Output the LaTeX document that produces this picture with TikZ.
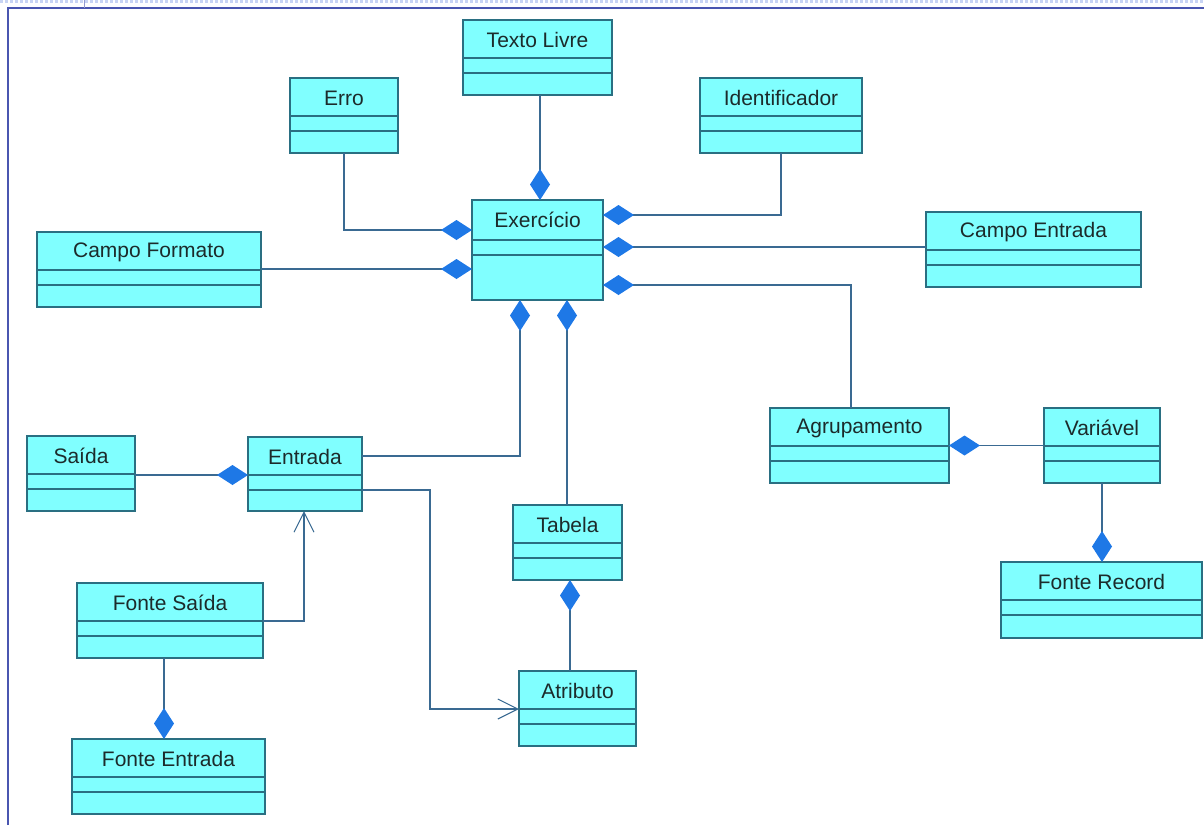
\documentclass[tikz,border=0pt]{standalone}
\usepackage{fontspec}
\setmainfont{Liberation Sans}
\usetikzlibrary{arrows.meta,calc}
\definecolor{clsfill}{HTML}{80FFFF}
\definecolor{clsdraw}{HTML}{2A6F82}
\definecolor{dblue}{HTML}{1E78E6}
\definecolor{lnk}{HTML}{3A6A92}
\definecolor{txt}{HTML}{1C2B2B}
\definecolor{frame}{HTML}{4A56B0}
\definecolor{ruler}{HTML}{C8D4F4}
\tikzset{
  cls/.style={draw=clsdraw, fill=clsfill, line width=1.4pt, inner sep=0pt, outer sep=0pt, rectangle},
  clsline/.style={draw=clsdraw, line width=1.3pt},
  lbl/.style={text=txt, font=\fontsize{21}{24}\selectfont, inner sep=0pt},
  link/.style={draw=lnk, line width=1.4pt},
  comp/.style={link, -{Diamond[length=31pt,width=20pt,fill=dblue,color=dblue]}},
  nav/.style={link, -{Straight Barb[length=20pt,width=20pt,line width=1.1pt]}}
}
\newcommand{\umlbox}[6]{%
  \node[cls, minimum width={(#4-#2)*1pt}, minimum height={(#5-#3)*1pt}, anchor=north west] (#1) at (#2,#3) {};
  \node[lbl] (#1-t) at ({(#2+#4)/2},{#3+20}) {#6};
  \draw[clsline] (#2,{#3+38}) -- (#4,{#3+38});
  \draw[clsline] (#2,{#3+53}) -- (#4,{#3+53});
}
\begin{document}
\begin{tikzpicture}[x=1pt,y=-1pt]
\useasboundingbox (0,0) rectangle (1204,825);
% frame
\draw[ruler, line width=3pt, dash pattern=on 3pt off 2pt] (0,1.5) -- (1204,1.5);
\draw[frame, line width=1.6pt] (8,825) -- (8,8) -- (1204,8);
\draw[frame!60, line width=1pt] (84,0) -- (84,8);
% classes
\umlbox{texto}{463}{20}{612}{95}{Texto Livre}
\umlbox{erro}{290}{78}{398}{153}{Erro}
\umlbox{ident}{700}{78}{862}{153}{Identificador}
\umlbox{campof}{37}{232}{261}{307}{Campo Formato}
\umlbox{campoe}{926}{212}{1141}{287}{Campo Entrada}
\node[cls, minimum width=131pt, minimum height=100pt, anchor=north west] (exer) at (472,200) {};
\node[lbl] (exer-t) at (537.5,220) {Exercício};
\draw[clsline] (472,240) -- (603,240);
\draw[clsline] (472,255) -- (603,255);
\umlbox{saida}{27}{436}{135}{511}{Saída}
\umlbox{entrada}{248}{437}{362}{511}{Entrada}
\umlbox{fsaida}{77}{583}{263}{658}{Fonte Saída}
\umlbox{fentrada}{72}{739}{265}{814}{Fonte Entrada}
\umlbox{tabela}{513}{505}{622}{580}{Tabela}
\umlbox{atributo}{519}{671}{636}{746}{Atributo}
\umlbox{agrup}{770}{408}{949}{483}{Agrupamento}
\umlbox{var}{1044}{408}{1160}{483}{Variável}
\umlbox{frec}{1001}{562}{1202}{638}{Fonte Record}
% connectors
\draw[comp] ([xshift=2.5pt]texto.south) -- ([xshift=2.5pt]exer.north);
\draw[comp] (erro.south) |- ([yshift=-30pt]exer.north west);
\draw[comp] (ident.south) |- ([yshift=-15pt]exer.north east);
\draw[comp] ([yshift=-35pt]campoe.north west) -- ([yshift=-47pt]exer.north east);
\draw[comp] ([yshift=-37pt]campof.north east) -- ([yshift=-69pt]exer.north west);
\draw[comp] ([xshift=-8.5pt]agrup.north) |- ([yshift=-85pt]exer.north east);
\draw[comp] ([yshift=-19pt]entrada.north east) -| ([xshift=48pt]exer.south west);
\draw[comp] ([xshift=54pt]tabela.north west) -- ([xshift=95pt]exer.south west);
\draw[comp] ([yshift=-39pt]saida.north east) -- ([yshift=-38pt]entrada.north west);
\draw[nav] ([yshift=-38pt]fsaida.north east) -| ([xshift=56pt]entrada.south west);
\draw[nav] ([yshift=-53pt]entrada.north east) -- ++(68,0) |- ([yshift=-38pt]atributo.north west);
\draw[comp] ([xshift=51pt]atributo.north west) -- ([xshift=57pt]tabela.south west);
\draw[comp] ([xshift=87pt]fsaida.south west) -- ([xshift=92pt]fentrada.north west);
\draw[comp] (var.west) -- (agrup.east);
\draw[comp] (var.south) -- (var.south |- frec.north);
\end{tikzpicture}
\end{document}
